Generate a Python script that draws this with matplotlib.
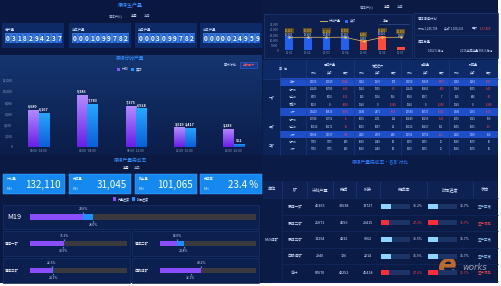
import numpy as np
import matplotlib
matplotlib.use('Agg')
import matplotlib.pyplot as plt
from matplotlib.patches import Rectangle
from matplotlib.colors import LinearSegmentedColormap

plt.rcParams['font.family'] = ['Noto Sans CJK SC', 'DejaVu Sans']
NARROW = ['Liberation Sans Narrow', 'Noto Sans CJK SC', 'DejaVu Sans']

# ---- data ----
counter_titles = ['总产量', '当年产量', '当月产量', '当日产量']
counter_digits = ['0318294237', '0001099782', '0003099782', '0000024959']

shift_labels = ['00:00~04:00', '04:00~08:00', '08:00~12:00', '12:00~16:00', '16:00~20:00']
shift_plan = [6680, 9386, 7375, 3519, 3283]
shift_actual = [6167, 7783, 6924, 3417, 552]

kpi_titles = ['计划量', '完成量', '剩余量', '完成率']
kpi_values = ['132,110', '31,045', '101,065', '23.4 %']

prog_names = ['M19', '原煤一矿', '原煤二矿', '原煤三矿', '白鹤煤矿']
prog_output = [23.6, 35.1, 18.0, 22.3, 43.2]
prog_time = [28.0, 34.5, 24.8, 24.1, 32.1]

day_labels = ['11-01', '11-02', '11-03', '11-04', '11-05', '11-06', '11-07']
day_plan = [12100, 12300, 12200, 12300, 8200, 12100, 12300]
day_actual = [13000, 12900, 12800, 13100, 9400, 13600, 2600]
day_ok = [True, True, True, True, False, False, False]

tbl_groups = ['原煤产量', '掘进进尺', '运输量', '剥离量']
tbl_sub = ['计划', '实际', '差额']
tbl_units = ['一矿', '二矿', '三矿']
tbl_rows = ['合计', '综一队', '综二队', '掘进队', '小计', '综一队', '综二队', '小计', '综一队', '小计']
tbl_total = [True, False, False, False, True, False, False, True, False, False]
tbl_values = [
    [22105, 20180, -1925, 3140, 2970, 170, 22100, 19605, -2495, 3130, 3280, -150],
    [11240, 10780, -460, 1240, 1255, -15, 11240, 10660, -580, 1240, 1095, -145],
    [8170, 8035, -135, 860, 1216, 356, 8060, 8067, 7, 860, 840, -20],
    [3000, 0, -3000, 1240, 0, -1240, 1240, 0, -1240, 1240, 0, -1240],
    [22410, 18815, -3595, 3340, 2471, -869, 20540, 18727, -1813, 3340, 2935, -405],
    [12740, 12736, -4, 1055, 1171, 116, 10440, 10295, -145, 1055, 1245, 190],
    [10326, 10271, -55, 1055, 1087, 32, 10326, 10457, 131, 1055, 1015, -40],
    [23066, 23007, -59, 2110, 2258, 148, 20766, 20752, -14, 2110, 2260, 150],
    [7030, 7175, 145, 1060, 1140, 80, 6370, 6395, 25, 1060, 1070, 10],
    [7030, 7175, 145, 1060, 1140, 80, 6370, 6395, 25, 1060, 1070, 10],
]

mine_headers = ['单位', '矿', '计划产量', '完成', '剩余', '完成率', '时间进度', '状态']
mine_unit = 'M19煤矿'
mine_names = ['原煤一矿', '原煤二矿', '原煤三矿', '白鹤煤矿', '合计']
mine_plan = [46365, 25071, 13294, 2940, 87670]
mine_done = [32638, 4656, 4232, 726, 42252]
mine_left = [13727, 20415, 9062, 2214, 45418]
mine_rate = [36.2, 27.1, 36.5, 35.9, 27.6]
mine_time = [35.7, 35.7, 35.7, 35.7, 35.7]
mine_status = ['生产正常', '生产滞后', '生产正常', '生产正常', '生产滞后']

PURPLE = '#8a4dff'
BLUE = '#1e8fff'
TITLE = '#3a8fff'
DIM = '#9fb4dc'

W, H = 502, 286
fig = plt.figure(figsize=(W / 100, H / 100), dpi=100)
fig.patch.set_facecolor('white')

bg = fig.add_axes([0, 0, 1, 1])
bg.set_xlim(0, W)
bg.set_ylim(H, 0)
bg.axis('off')


def box(x, y, w, h, fc, ec='none', lw=0.5, z=1):
    bg.add_patch(Rectangle((x, y), w, h, facecolor=fc, edgecolor=ec, lw=lw, zorder=z))


def txt(x, y, s, size=2.5, color='#cfe0ff', ha='center', va='center', **kw):
    bg.text(x, y, s, fontsize=size, color=color, ha=ha, va=va, zorder=5, **kw)


def sub(x, y, w, h):
    ax = fig.add_axes([x / W, 1 - (y + h) / H, w / W, h / H])
    ax.patch.set_alpha(0)
    for s in ax.spines.values():
        s.set_visible(False)
    return ax


def grad_bars(ax, xs, hs, w, c_bot, c_top):
    bars = ax.bar(xs, hs, w, color='none', zorder=2)
    cmap = LinearSegmentedColormap.from_list('g', [c_bot, c_top])
    grad = np.linspace(0, 1, 64).reshape(-1, 1)
    for b in bars:
        x0 = b.get_x()
        im = ax.imshow(grad, extent=[x0, x0 + b.get_width(), 0, b.get_height()],
                       origin='lower', aspect='auto', cmap=cmap, zorder=2)
        im.set_clip_path(b)
    return bars


# panels
box(0, 0, 498, 283, '#0b1c46')
box(0, 0, 262, 55, '#0a1840')
grad = np.linspace(0, 1, 64).reshape(-1, 1)
bg.imshow(grad, extent=[0, 262, 55, 155], aspect='auto', zorder=1,
          cmap=LinearSegmentedColormap.from_list('p', ['#0b1d4a', '#15356f']))
box(0, 155, 262, 128, '#0a1a42')
box(263, 0, 235, 59, '#0a1a42')
box(263, 60, 235, 95, '#0c2358')
box(263, 155, 235, 128, '#0a1b46')
bg.set_xlim(0, W)
bg.set_ylim(H, 0)

# ---- top left: counters ----
txt(130, 6, '原煤生产量', 3.6, TITLE)
txt(116, 16, '原煤产(t)', 2.4, DIM)
txt(134, 16, '本日', 2.4, 'white')
box(130, 18.6, 8, 0.6, 'white', z=3)
txt(147, 16, '本月', 2.4, DIM)
for i, x0 in enumerate([2, 69, 135, 200]):
    box(x0, 23, 62, 25, '#0e2a66', z=2)
    txt(x0 + 3, 29, counter_titles[i], 2.4, ha='left')
    axc = sub(x0 + 3, 33, 57, 10)
    axc.set_xlim(0, 10)
    axc.set_ylim(0, 1)
    axc.set_xticks([])
    axc.set_yticks([])
    for k, d in enumerate(counter_digits[i]):
        axc.add_patch(Rectangle((k + 0.08, 0.05), 0.84, 0.9, facecolor='#2160d6',
                                edgecolor='#5aa5ff', lw=0.4))
        axc.text(k + 0.5, 0.48, d, fontsize=4.6, color='white', ha='center', va='center',
                 fontweight='bold')

# ---- shift bar chart ----
txt(130, 58, '原煤分时产量', 3.4, TITLE)
box(117, 67.5, 3.5, 3.5, PURPLE, z=3)
txt(122, 69.3, '计划', 2.4, ha='left')
box(131, 67.5, 3.5, 3.5, BLUE, z=3)
txt(136, 69.3, '实际', 2.4, ha='left')
txt(238, 65, '累计对比:', 2.3, ha='right')
box(240, 62, 17, 6, '#183a8a', ec='#2a5ad0', z=3)
txt(248.5, 65, '全天累计', 2.2, '#ff5a5a')

ax1 = sub(14, 80, 244, 67)
xs = np.arange(len(shift_labels))
grad_bars(ax1, xs - 0.11, shift_plan, 0.21, '#6a1ee8', '#b48cff')
grad_bars(ax1, xs + 0.11, shift_actual, 0.21, '#0a5fd8', '#27a8ff')
for i in range(len(xs)):
    ax1.text(xs[i] - 0.11, shift_plan[i] + 250, f'{shift_plan[i]:,}', fontsize=2.6,
             color='white', ha='center', va='bottom', fontweight='bold')
    ax1.text(xs[i] + 0.11, shift_actual[i] + 250, f'{shift_actual[i]:,}', fontsize=2.6,
             color='white', ha='center', va='bottom', fontweight='bold')
ax1.axhline(0, color='#3a5a9a', lw=0.4)
ax1.set_xlim(-0.5, len(xs) - 0.5)
ax1.set_ylim(0, 12000)
ax1.set_yticks(range(0, 12001, 2000))
ax1.set_yticklabels([f'{v:,}' for v in range(0, 12001, 2000)])
ax1.set_xticks(xs)
ax1.set_xticklabels(shift_labels)
ax1.tick_params(length=0, labelsize=2.3, labelcolor='#8aa0c8', pad=1.2)

# ---- KPI boxes ----
txt(130, 160, '原煤产量完成率', 3.4, TITLE)
txt(126, 168, '本月', 2.4, 'white')
box(122, 170.6, 8, 0.6, 'white', z=3)
txt(137, 168, '本年', 2.4, DIM)
for i, x0 in enumerate([3, 69, 135, 200]):
    box(x0, 174, 62, 20, '#1589f0', ec='#4fb0ff', lw=0.3, z=2)
    txt(x0 + 4, 179, kpi_titles[i], 2.3, 'white', ha='left')
    txt(x0 + 4, 189, 'MEt', 2.3, '#dfeeff', ha='left')
    txt(x0 + 58, 184.5, kpi_values[i], 7, 'white', ha='right', family=NARROW)
box(113, 197.3, 3.4, 3.4, PURPLE, z=3)
txt(117.5, 199, '产量进度', 2.2, ha='left')
box(132, 197.3, 3.4, 3.4, BLUE, z=3)
txt(136.5, 199, '时间进度', 2.2, ha='left')

# ---- progress bars ----
box(3, 205, 256, 24, '#0c2050', ec='#16326c', z=2)
for (x0, y0) in [(3, 231), (132, 231), (3, 258), (132, 258)]:
    box(x0, y0, 127, 25, '#0c2050', ec='#16326c', z=2)
prog_axes = [(30, 205, 226, 24), (30, 231, 97, 25), (160, 231, 96, 25),
             (30, 258, 97, 25), (160, 258, 96, 25)]
name_pos = [(14, 217), (5, 243.5), (135, 243.5), (5, 270.5), (135, 270.5)]
for i, name in enumerate(prog_names):
    nx, ny = name_pos[i]
    if i == 0:
        txt(nx, ny, name, 5.2, 'white')
    else:
        txt(nx, ny, name, 2.5, 'white', ha='left')
    axp = sub(*prog_axes[i])
    bh = 6 if i == 0 else 5
    axp.barh(0, 100, height=bh, color='#3a3a3e')
    axp.barh(0, prog_time[i], height=bh, color=BLUE)
    axp.barh(0, prog_output[i], height=bh, color=PURPLE)
    axp.plot(prog_output[i], bh / 2 + 1.2, marker='v', ms=1.3, color='#5fb0ff', mew=0)
    axp.plot(prog_time[i], -bh / 2 - 1.2, marker='^', ms=1.3, color='#5fb0ff', mew=0)
    axp.text(prog_output[i], bh / 2 + 4.6, f'{prog_output[i]:.1f}%', fontsize=2.3,
             color='#d0dcff', ha='center', va='center')
    axp.text(prog_time[i], -bh / 2 - 4.6, f'{prog_time[i]:.1f}%', fontsize=2.3,
             color='#d0dcff', ha='center', va='center')
    axp.set_xlim(0, 100)
    axp.set_ylim(-12, 12)
    axp.set_xticks([])
    axp.set_yticks([])

# ---- top right: daily chart ----
txt(367, 7, '原煤产(t)', 2.4, DIM)
txt(387, 7, '本日', 2.4, 'white')
box(383, 9.6, 8, 0.6, 'white', z=3)
txt(400, 7, '本月', 2.4, DIM)
box(264, 14, 148, 44, '#0c1f4e', ec='#1a3a7a', z=2)
bg.plot([320, 327], [21, 21], color='#e8c65a', lw=0.6, zorder=5)
txt(328.5, 21, '计划产量', 2.2, ha='left')
box(345, 19.5, 3, 3, '#2a6bff', z=3)
txt(349.5, 21, '实际', 2.2, ha='left')
txt(386, 20.5, '本月', 2.2, 'white')
bg.plot([379, 409], [24, 24], color='#3a5a9a', lw=0.4, zorder=5)

ax2 = sub(280, 24, 130, 26)
xd = np.arange(len(day_labels))
ax2.bar(xd, day_actual, 0.42, color=['#2460f0' if ok else '#ff4a3a' for ok in day_ok], zorder=2)
ax2.plot(xd, day_plan, color='#e8c65a', lw=0.5, marker='o', ms=0.8, zorder=3)
for i in range(len(xd)):
    top = max(day_plan[i], day_actual[i])
    ax2.text(xd[i], top + 5600, f'{day_plan[i]:,}', fontsize=1.9, color='#ffd36a',
             ha='center', va='center',
             bbox=dict(fc='#5a4a20', ec='none', pad=0.3))
    ax2.text(xd[i], top + 2000, f'{day_actual[i]:,}', fontsize=1.9, color='white',
             ha='center', va='center')
ax2.set_xlim(-0.5, len(xd) - 0.5)
ax2.set_ylim(0, 25000)
ax2.set_yticks(range(0, 25001, 5000))
ax2.set_yticklabels([f'{v:,}' if v else '0' for v in range(0, 25001, 5000)])
ax2.set_xticks(xd)
ax2.set_xticklabels(day_labels)
ax2.tick_params(length=0, labelsize=2.1, labelcolor='#8aa0c8', pad=1)

# info box
box(414, 13, 84, 45, '#0c1f4e', ec='#1a3a7a', z=2)
txt(418, 19, '原煤调运计划', 2.3, ha='left')
txt(418, 28, '计划 1,245,704', 2.1, ha='left')
txt(444, 28, '实际 1,108,239', 2.1, ha='left')
txt(472, 28, '差额', 2.1, ha='left')
txt(480, 28, '-137,465', 2.1, '#ff4a4a', ha='left')
bg.plot([416, 496], [35, 35], color='#1a3a7a', lw=0.4, zorder=5)
txt(418, 42, '库存总量', 2.3, ha='left')
txt(436, 51, '1062.5 万吨', 2.1)
txt(476, 51, '2015年库存量 986.3 万吨', 2.1)

# ---- middle right table ----
box(263, 60, 235, 19, '#0e2a66', z=2)
cw = 15.9
cx0 = 306
txt(283, 69, '单  位', 2.3)
for g, name in enumerate(tbl_groups):
    gx = cx0 + g * 3 * cw
    txt(gx + 1.5 * cw, 65, name, 2.2)
    bg.plot([gx, gx], [60, 155], color='#1f3f88', lw=0.4, zorder=3)
    for s, sname in enumerate(tbl_sub):
        txt(gx + (s + 0.5) * cw, 73.5, sname, 2.0)
bg.plot([263, 498], [79, 79], color='#1f3f88', lw=0.4, zorder=3)
bg.plot([280, 280], [60, 155], color='#1f3f88', lw=0.4, zorder=3)
row_h = 7.5
for r, name in enumerate(tbl_rows):
    yc = 82 + r * row_h
    if tbl_total[r]:
        box(280, yc - row_h / 2, 218, row_h, '#1f4fc8', z=2)
    txt(293, yc, name, 2.0)
    for c, v in enumerate(tbl_values[r]):
        col = '#ff4a5a' if (c % 3 == 2 and v < 0) else '#d8e4ff'
        txt(cx0 + (c + 0.5) * cw, yc, f'{v}', 1.9, col)
for name, yc in zip(tbl_units, [98, 127, 145.5]):
    txt(272, yc, name, 2.2)

# ---- bottom right table ----
txt(380, 163, '原煤产量完成率·各矿对比', 3.4, '#2f7dff')
box(263, 181, 235, 17, '#0d2152', z=2)
col_x = [272, 295, 320, 344, 368, 404, 450, 485]
for x, h in zip(col_x, mine_headers):
    txt(x, 189.5, h, 3.0, '#dbe6ff')
for x in [282, 307, 333, 356, 380, 427, 473]:
    bg.plot([x, x], [181, 198], color='#1f3f88', lw=0.4, zorder=3)
for k in range(6):
    y = 198 + 16.6 * k
    bg.plot([282 if 0 < k < 5 else 263, 498], [y, y], color='#142e66', lw=0.4, zorder=3)
bg.plot([282, 282], [198, 281], color='#142e66', lw=0.4, zorder=3)
txt(272, 239.5, mine_unit, 2.6, '#dbe6ff')
for r in range(len(mine_names)):
    yc = 206.3 + 16.6 * r
    bad = mine_status[r] != '生产正常'
    txt(col_x[1], yc, mine_names[r], 2.7, '#dbe6ff')
    txt(col_x[2], yc, f'{mine_plan[r]}', 2.7, '#dbe6ff', family=NARROW)
    txt(col_x[3], yc, f'{mine_done[r]}', 2.7, '#dbe6ff', family=NARROW)
    txt(col_x[4], yc, f'{mine_left[r]}', 2.7, '#dbe6ff', family=NARROW)
    txt(418, yc, f'{mine_rate[r]}%', 2.5, '#ff4a4a' if bad else '#dbe6ff', family=NARROW)
    txt(465, yc, f'{mine_time[r]}%', 2.5, '#ff4a4a' if bad else '#dbe6ff', family=NARROW)
    txt(col_x[7], yc, mine_status[r], 2.5, '#ff4a4a' if bad else '#9ccfff')

bar_cols = ['#ff2a3a' if s != '生产正常' else '#8fd4ff' for s in mine_status]
rows = np.arange(len(mine_names))
for (x0, vals) in [(381, mine_rate), (428, mine_time)]:
    axb = sub(x0, 198, 29, 83)
    axb.barh(rows, 100, height=0.3, color='#1d3566')
    axb.barh(rows, vals, height=0.3, color=bar_cols)
    axb.set_xlim(0, 100)
    axb.set_ylim(len(rows) - 0.5, -0.5)
    axb.set_xticks([])
    axb.set_yticks([])

# watermark (sits over the table, as in the screenshot)
txt(447, 266, 'e', 20, '#d9782d', style='italic', fontweight='bold', alpha=0.85,
    family='DejaVu Sans')
txt(475, 268, 'works', 6, '#c8c2d0', style='italic', alpha=0.8, family='DejaVu Sans')

fig.savefig('out.png', dpi=100, facecolor='white')
